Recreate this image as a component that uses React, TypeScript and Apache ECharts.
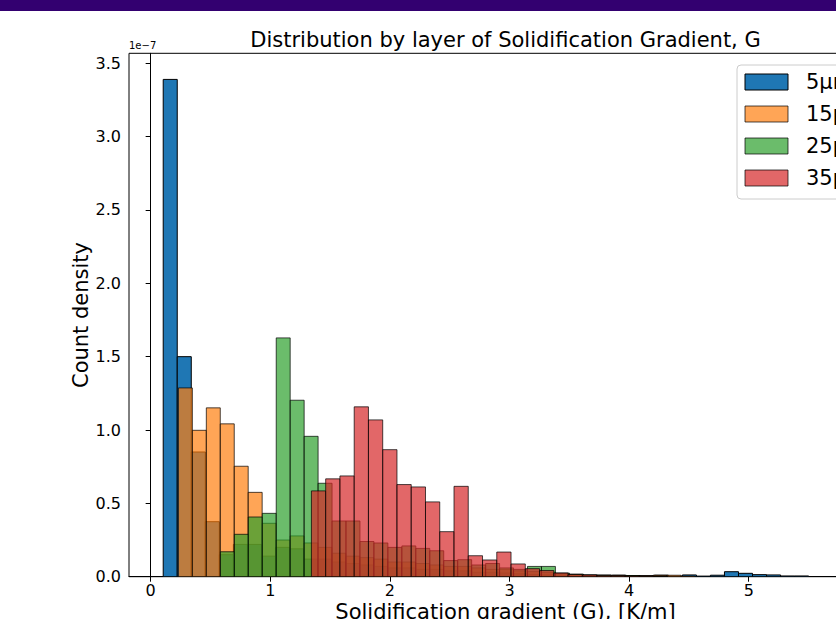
import React, { useEffect, useRef } from 'react';
import * as echarts from 'echarts';

// Layer names and histogram data (count density in units of 1e-7)
const seriesNames = ['5μm', '15μm', '25μm', '35μm'];
const binStarts = [0.105, 0.232, 0.583, 1.344];
const binWidths = [0.1173, 0.1167, 0.1167, 0.1192];

const density5 = [3.39, 1.5, 0.85, 0.375, 0.15, 0.22, 0.22, 0.14, 0.2, 0.19, 0.12, 0.12, 0.1, 0.09, 0.08, 0.07,
  0.06, 0.06, 0.05, 0.05, 0.04, 0.04, 0.03, 0.03, 0.025, 0.02, 0.015, 0.012, 0.01, 0.01, 0.008, 0.008, 0.01,
  0.008, 0.006, 0.01, 0.004, 0.012, 0.004, 0.01, 0.034, 0.023, 0.014, 0.012, 0.005, 0.005];
const density15 = [1.287, 0.998, 1.151, 1.042, 0.753, 0.575, 0.364, 0.25, 0.278, 0.23, 0.2, 0.16, 0.14, 0.13,
  0.12, 0.1, 0.1, 0.09, 0.08, 0.07, 0.07, 0.06, 0.05, 0.05, 0.04, 0.035, 0.03, 0.02, 0.015, 0.012, 0.01, 0.01,
  0.008, 0.006, 0.01, 0.01, 0.004];
const density25 = [0.17, 0.289, 0.407, 0.432, 1.628, 1.203, 0.957, 0.637, 0.38, 0.38, 0.24, 0.23, 0.2, 0.21,
  0.193, 0.177, 0.11, 0.116, 0.08, 0.09, 0.06, 0.05, 0.07, 0.07, 0.025, 0.018, 0.012, 0.012, 0.008, 0.006,
  0.005, 0.004];
const density35 = [0.585, 0.667, 0.687, 1.158, 1.069, 0.866, 0.628, 0.612, 0.51, 0.307, 0.616, 0.143, 0.114,
  0.168, 0.087, 0.055, 0.042, 0.025, 0.015, 0.012, 0.008, 0.006, 0.004, 0.003, 0.002];

const xTicks = [0, 1, 2, 3, 4, 5];
const yTicks = [0, 0.5, 1, 1.5, 2, 2.5, 3, 3.5];
const xExtent = [-0.181, 6.114];
const yExtent = [0, 3.568];

const titleText = 'Distribution by layer of Solidification Gradient, G';
const xName = 'Solidification gradient (G), [K/m]';
const yName = 'Count density';
const offsetText = '1e\u22127';

const fills = ['#1f77b4', 'rgba(255,127,14,0.7)', 'rgba(44,160,44,0.7)', 'rgba(214,39,40,0.7)'];
const edges = ['#000000', 'rgba(0,0,0,0.7)', 'rgba(0,0,0,0.7)', 'rgba(0,0,0,0.7)'];
const FONT = "'DejaVu Sans', sans-serif";

const allDensities = [density5, density15, density25, density35];

function toBins(start: number, width: number, values: number[]) {
  return values.map((v, i) => [start + i * width, start + (i + 1) * width, v]);
}

export default function App() {
  const ref = useRef<HTMLDivElement>(null);

  useEffect(() => {
    if (!ref.current) return;
    const chart = echarts.init(ref.current, undefined, { renderer: 'svg' });

    const series = allDensities.map((vals, idx) => ({
      type: 'custom',
      name: seriesNames[idx],
      data: toBins(binStarts[idx], binWidths[idx], vals),
      encode: { x: [0, 1], y: 2 },
      clip: true,
      renderItem: (params: any, api: any) => {
        const a = api.coord([api.value(0), api.value(2)]);
        const b = api.coord([api.value(1), 0]);
        return {
          type: 'rect',
          shape: { x: a[0], y: a[1], width: b[0] - a[0], height: b[1] - a[1] },
          style: { fill: fills[idx], stroke: edges[idx], lineWidth: 1 },
        };
      },
    }));

    const legendTop = 65;
    const legendGraphics: any[] = [
      {
        type: 'rect',
        shape: { x: 737, y: legendTop, width: 200, height: 134, r: 4 },
        style: { fill: 'rgba(255,255,255,0.8)', stroke: '#cccccc', lineWidth: 1 },
        z: 100,
      },
    ];
    seriesNames.forEach((name, i) => {
      legendGraphics.push({
        type: 'rect',
        shape: { x: 745, y: 74 + i * 32, width: 43, height: 16 },
        style: { fill: fills[i], stroke: edges[i], lineWidth: 1 },
        z: 101,
      });
      legendGraphics.push({
        type: 'text',
        x: 806,
        y: 82 + i * 32,
        style: { text: name, fill: '#000', font: `21px ${FONT}`, verticalAlign: 'middle', align: 'left' },
        z: 101,
      });
    });

    chart.setOption({
      animation: false,
      backgroundColor: '#ffffff',
      title: {
        text: titleText,
        left: 505.5,
        top: 29,
        textAlign: 'center',
        padding: 0,
        textStyle: { fontSize: 21, fontWeight: 'normal', fontFamily: FONT, color: '#000' },
      },
      grid: {
        left: 129,
        top: 53.3,
        width: 753,
        height: 523.4,
        show: true,
        borderColor: '#000',
        borderWidth: 1,
        backgroundColor: 'transparent',
        containLabel: false,
        outerBoundsMode: 'none',
      },
      xAxis: {
        type: 'value',
        min: xExtent[0],
        max: xExtent[1],
        name: xName,
        nameLocation: 'middle',
        nameGap: 25,
        nameMoveOverlap: false,
        nameTextStyle: { fontSize: 21, fontFamily: FONT, color: '#000' },
        axisLine: { show: true, lineStyle: { color: '#000', width: 1 } },
        axisTick: { show: true, length: 5, customValues: xTicks, lineStyle: { color: '#000' } },
        axisLabel: { customValues: xTicks, fontSize: 16, fontFamily: FONT, color: '#000', margin: 6 },
        splitLine: { show: false },
      },
      yAxis: {
        type: 'value',
        min: yExtent[0],
        max: yExtent[1],
        name: yName,
        nameLocation: 'middle',
        nameGap: 38,
        nameMoveOverlap: false,
        nameTextStyle: { fontSize: 21, fontFamily: FONT, color: '#000' },
        axisLine: { show: true, lineStyle: { color: '#000', width: 1 } },
        axisTick: { show: true, length: 5, customValues: yTicks, lineStyle: { color: '#000' } },
        axisLabel: {
          customValues: yTicks,
          fontSize: 16,
          fontFamily: FONT,
          color: '#000',
          margin: 8,
          formatter: (v: number) => v.toFixed(1),
        },
        splitLine: { show: false },
      },
      graphic: [
        {
          type: 'rect',
          shape: { x: 0, y: 0, width: 836, height: 11 },
          style: { fill: '#330070' },
          z: 100,
        },
        {
          type: 'text',
          x: 129,
          y: 50,
          style: { text: offsetText, fill: '#000', font: `10px ${FONT}`, verticalAlign: 'bottom', align: 'left' },
          z: 100,
        },
        ...legendGraphics,
      ],
      series,
    });

    return () => chart.dispose();
  }, []);

  return (
    <div style={{ position: 'fixed', left: 0, top: 0, width: 836, height: 619, overflow: 'hidden', background: '#fff' }}>
      <div ref={ref} style={{ width: 836, height: 619 }} />
    </div>
  );
}
